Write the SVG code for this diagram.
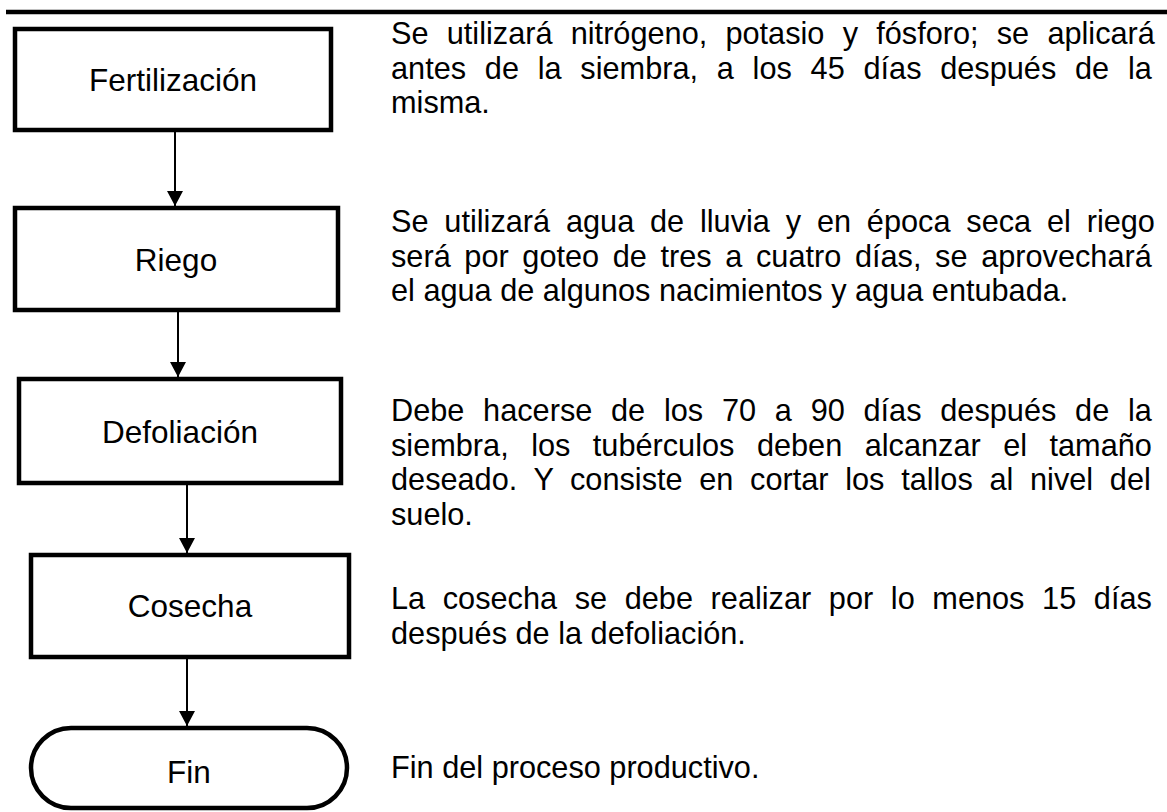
<svg xmlns="http://www.w3.org/2000/svg" width="1167" height="812" viewBox="0 0 1167 812">
<style>
.box{fill:#fff;stroke:#000;stroke-width:4.5}
.lbl{font-family:"Liberation Sans",Arial,sans-serif;font-size:31.5px;fill:#000;text-anchor:middle}
.txt{font-family:"Liberation Sans",Arial,sans-serif;font-size:30.7px;fill:#000}
.con{stroke:#000;stroke-width:2;fill:none}
</style>
<defs>
<marker id="ah" markerUnits="userSpaceOnUse" markerWidth="16" markerHeight="16" refX="15" refY="8" orient="auto">
<path d="M0,0 L15,8 L0,16 Z" fill="#000"/>
</marker>
</defs>
<rect width="1167" height="812" fill="#fff"/>
<line x1="6" y1="12" x2="1167" y2="12" stroke="#000" stroke-width="4.5"/>
<g id="connectors">
<line class="con" x1="175" y1="132" x2="175" y2="206" marker-end="url(#ah)"/>
<line class="con" x1="178" y1="312" x2="178" y2="377" marker-end="url(#ah)"/>
<line class="con" x1="187" y1="485" x2="187" y2="553" marker-end="url(#ah)"/>
<line class="con" x1="187" y1="659" x2="187" y2="726" marker-end="url(#ah)"/>
</g>
<g id="fertilizacion">
<rect class="box" x="15" y="29" width="316" height="101"/>
<text class="lbl" x="173" y="91">Fertilización</text>
</g>
<g id="riego">
<rect class="box" x="15" y="208" width="323" height="102"/>
<text class="lbl" x="176" y="271">Riego</text>
</g>
<g id="defoliacion">
<rect class="box" x="19" y="379" width="322" height="104"/>
<text class="lbl" x="180" y="443">Defoliación</text>
</g>
<g id="cosecha">
<rect class="box" x="31" y="555" width="318" height="102"/>
<text class="lbl" x="190" y="617">Cosecha</text>
</g>
<g id="fin">
<rect class="box" x="31" y="728" width="316" height="80" rx="40" ry="40"/>
<text class="lbl" x="189" y="783">Fin</text>
</g>
<g id="desc1">
<text class="txt" x="391" y="44" word-spacing="9.70">Se utilizará nitrógeno, potasio y fósforo; se aplicará</text>
<text class="txt" x="391" y="78.5" word-spacing="10.23">antes de la siembra, a los 45 días después de la</text>
<text class="txt" x="391" y="113">misma.</text>
</g>
<g id="desc2">
<text class="txt" x="391" y="232" word-spacing="7.30">Se utilizará agua de lluvia y en época seca el riego</text>
<text class="txt" x="391" y="266.5" word-spacing="5.11">será por goteo de tres a cuatro días, se aprovechará</text>
<text class="txt" x="391" y="301">el agua de algunos nacimientos y agua entubada.</text>
</g>
<g id="desc3">
<text class="txt" x="391" y="421" word-spacing="10.23">Debe hacerse de los 70 a 90 días después de la</text>
<text class="txt" x="391" y="455.5" word-spacing="13.94">siembra, los tubérculos deben alcanzar el tamaño</text>
<text class="txt" x="391" y="490" word-spacing="8.16">deseado. Y consiste en cortar los tallos al nivel del</text>
<text class="txt" x="391" y="524.5">suelo.</text>
</g>
<g id="desc4">
<text class="txt" x="391" y="609" word-spacing="9.10">La cosecha se debe realizar por lo menos 15 días</text>
<text class="txt" x="391" y="643.5">después de la defoliación.</text>
</g>
<g id="desc5">
<text class="txt" x="391" y="778">Fin del proceso productivo.</text>
</g>
</svg>
